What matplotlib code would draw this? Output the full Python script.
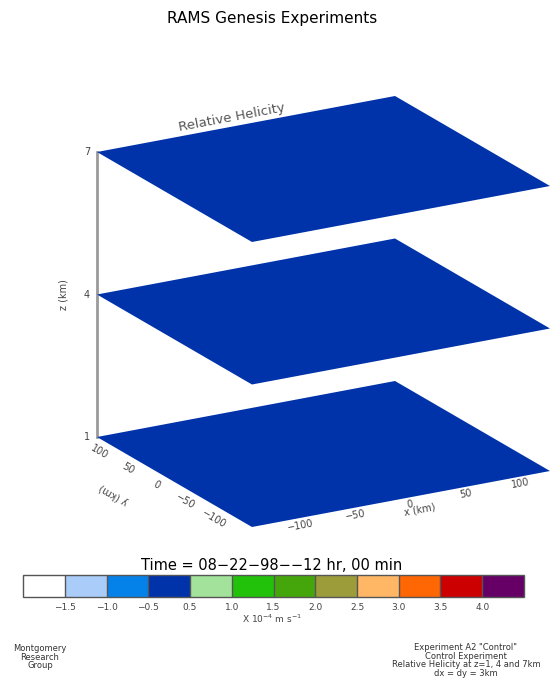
import matplotlib
matplotlib.use('Agg')
import numpy as np
import matplotlib.pyplot as plt
from matplotlib.patches import Polygon
from matplotlib.transforms import Affine2D
from matplotlib.colors import ListedColormap, BoundaryNorm
import matplotlib as mpl

# domain and levels (km)
x_range = [-100, 100]
y_range = [-100, 100]
z_levels = [1, 4, 7]
helicity = [0.0, 0.0, 0.0]          # level mean, X 10^-4

x_ticks = [-100, -50, 0, 50, 100]
y_ticks = [-100, -50, 0, 50, 100]

cb_bounds = [-2.0, -1.5, -1.0, -0.5, 0.5, 1.0, 1.5, 2.0, 2.5, 3.0, 3.5, 4.0, 4.5]
cb_labels = ['-1.5', '-1.0', '-0.5', '0.5', '1.0', '1.5', '2.0', '2.5', '3.0', '3.5', '4.0']
cb_colors = ['#ffffff', '#a9cdf8', '#0582ea', '#0033aa', '#a3e29a', '#22c10a',
             '#45a60c', '#9c9c3a', '#ffb766', '#ff6604', '#cc0000', '#660066']

cmap = ListedColormap(cb_colors)
norm = BoundaryNorm(cb_bounds, cmap.N)

W, H = 559, 679
fig = plt.figure(figsize=(W / 100, H / 100), dpi=100)
ax = fig.add_axes([0, 0, 1, 1])
ax.set_xlim(0, W)
ax.set_ylim(H, 0)
ax.axis('off')

# oblique projection, screen pixels
org = np.array([252.0, 527.0])      # (x=-100, y=-100, z=1)
ex = np.array([298.0, -56.0]) / 200.0
ey = np.array([-155.0, -90.0]) / 200.0
ez = np.array([0.0, -47.5])


def level_tf(z):
    c = org + 100 * ex + 100 * ey + (z - 1) * ez
    m = np.array([[ex[0], ey[0], c[0]],
                  [ex[1], ey[1], c[1]],
                  [0, 0, 1]])
    return Affine2D(m) + ax.transData


def proj(x, y, z):
    return org + (x + 100) * ex + (y + 100) * ey + (z - 1) * ez


x0, x1 = x_range
y0, y1 = y_range
for z, h in zip(z_levels, helicity):
    poly = Polygon([(x0, y0), (x1, y0), (x1, y1), (x0, y1)], closed=True,
                   facecolor=cmap(norm(h)), edgecolor='none',
                   transform=level_tf(z), zorder=2)
    ax.add_patch(poly)

# vertical axis
zb = proj(x0, y1, z_levels[0])
zt = proj(x0, y1, z_levels[-1])
ax.plot([zb[0], zt[0]], [zb[1], zt[1]], color='#9a9a9a', lw=2, zorder=1)
for z in z_levels:
    p = proj(x0, y1, z)
    ax.text(p[0] - 7, p[1], str(z), ha='right', va='center', fontsize=7, color='#444444')
ax.text(64, 295, 'z (km)', rotation=90, ha='center', va='center', fontsize=7, color='#444444')

tick_kw = dict(ha='center', va='center', fontsize=7, color='#444444')
ang_x = np.degrees(np.arctan2(-ex[1], ex[0]))
ang_y = np.degrees(np.arctan2(ey[1], -ey[0]))
for t in x_ticks:
    p = proj(0.74 * t, -112, 1)
    ax.text(p[0], p[1], str(t).replace('-', '\u2212'), rotation=ang_x, **tick_kw)
for t in y_ticks:
    p = proj(-112, 0.74 * t, 1)
    ax.text(p[0], p[1], str(t).replace('-', '\u2212'), rotation=ang_y, **tick_kw)
p = proj(0, -124, 1)
ax.text(p[0], p[1], 'x (km)', rotation=ang_x, **tick_kw)
p = proj(-142, -2, 1)
ax.text(p[0], p[1], 'y (km)', rotation=ang_y + 180, **tick_kw)

p = proj(-2, 114.5, 7)
ax.text(p[0], p[1], 'Relative Helicity', rotation=ang_x, ha='center', va='center',
        fontsize=9.5, color='#555555')

ax.text(272, 18, 'RAMS Genesis Experiments', ha='center', va='center', fontsize=11)
ax.text(272, 565, 'Time = 08\u221222\u221298\u2212\u221212 hr, 00 min', ha='center',
        va='center', fontsize=10.5)

# colour bar
bl, br, bt, bb = 23, 524, 575, 597
cax = fig.add_axes([bl / W, 1 - bb / H, (br - bl) / W, (bb - bt) / H])
cb = mpl.colorbar.ColorbarBase(cax, cmap=cmap, norm=norm, boundaries=cb_bounds,
                               spacing='uniform', orientation='horizontal',
                               drawedges=True)
cb.outline.set_edgecolor('#555555')
cb.outline.set_linewidth(1)
cb.dividers.set_color('#555555')
cb.dividers.set_linewidth(1)
cb.minorticks_off()
cax.set_xticks([])
cax.tick_params(which='both', length=0)
for i, lab in enumerate(cb_labels):
    xp = bl + (i + 1) * (br - bl) / 12
    ax.text(xp, 607, lab.replace('-', '\u2212'), ha='center', va='center',
            fontsize=6.5, color='#444444')
ax.text(272, 619, 'X 10$^{-4}$ m s$^{-1}$', ha='center', va='center', fontsize=6.5,
        color='#444444')

foot_kw = dict(ha='center', va='top', fontsize=6, color='#333333', linespacing=0.95)
ax.text(40, 644, 'Montgomery\nResearch\nGroup', **foot_kw)
ax.text(466, 643, 'Experiment A2 "Control"\nControl Experiment\n'
        'Relative Helicity at z=1, 4 and 7km\ndx = dy = 3km', **foot_kw)

fig.savefig('out.png', dpi=100)
